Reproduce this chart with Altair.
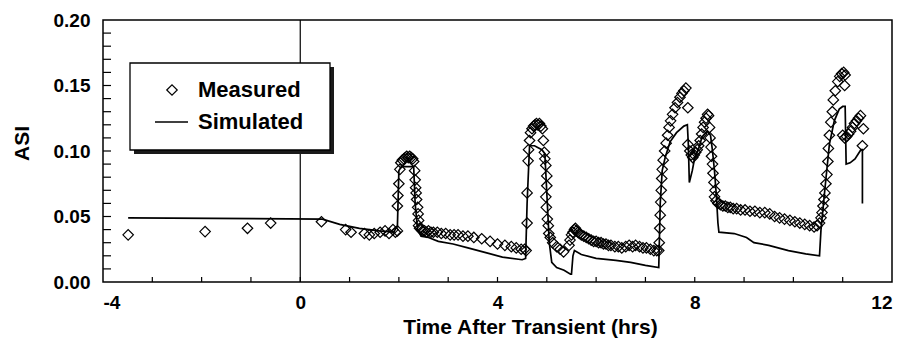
import altair as alt
import pandas as pd

FONT = "Liberation Sans"

# ---- data ----
meas_t = [-3.49, -1.93, -1.07, -0.6,
          0.43, 0.92, 1.03, 1.3, 1.4, 1.5, 1.62, 1.72, 1.8, 1.88, 1.93, 1.97,
          1.97, 1.98, 2.0, 2.02, 2.04, 2.07, 2.1, 2.13, 2.16, 2.19, 2.22, 2.25, 2.28, 2.3,
          2.32, 2.33, 2.34, 2.35, 2.36, 2.38, 2.39, 2.4, 2.4, 2.42, 2.45, 2.48, 2.52, 2.56,
          2.6, 2.65, 2.7, 2.78, 2.86, 2.95, 3.04, 3.12, 3.2, 3.3, 3.4, 3.52, 3.68, 3.85,
          4.0, 4.15, 4.28, 4.38, 4.48, 4.55, 4.58,
          4.6, 4.6, 4.62, 4.63, 4.65, 4.67, 4.7, 4.73, 4.76, 4.79, 4.82, 4.85, 4.88, 4.91,
          4.93, 4.95, 4.96, 4.98, 5.0, 5.0, 4.98, 4.99, 5.01, 5.03, 5.04, 5.07, 5.12, 5.2,
          5.27, 5.34,
          5.45, 5.47, 5.5, 5.53, 5.56, 5.58, 5.6, 5.63, 5.66, 5.7, 5.75, 5.8, 5.85, 5.9,
          5.95, 6.0, 6.05, 6.1, 6.15, 6.2, 6.25, 6.3, 6.38, 6.45, 6.52, 6.6, 6.67, 6.74,
          6.8, 6.88, 6.95, 7.02, 7.1, 7.17, 7.23, 7.27,
          7.28, 7.29, 7.3, 7.31, 7.32, 7.33, 7.34, 7.36, 7.39, 7.42, 7.45, 7.48, 7.51, 7.55,
          7.6, 7.65, 7.7, 7.74, 7.78, 7.82, 7.86,
          7.86, 7.9, 7.93, 7.96, 7.99, 8.02, 8.05, 8.08, 8.11, 8.14, 8.17, 8.2, 8.23, 8.26, 8.28,
          8.3, 8.31, 8.33, 8.34, 8.36, 8.37, 8.39, 8.41, 8.4, 8.43, 8.47, 8.52, 8.57, 8.62,
          8.67, 8.72, 8.78, 8.85, 8.93, 9.02, 9.12, 9.22, 9.32, 9.42, 9.52, 9.62, 9.72, 9.82,
          9.93, 10.03, 10.13, 10.23, 10.33, 10.42, 10.48, 10.53,
          10.56, 10.58, 10.6, 10.62, 10.64, 10.66, 10.68, 10.7, 10.71, 10.73, 10.76, 10.79,
          10.81, 10.85, 10.9, 10.94, 10.98, 11.02, 11.05, 11.04,
          11.0, 11.04, 11.08, 11.12, 11.16, 11.2, 11.24, 11.28, 11.32, 11.36, 11.42, 11.4]
meas_v = [0.036, 0.0385, 0.041, 0.045,
          0.046, 0.040, 0.038, 0.037, 0.036, 0.037, 0.038, 0.039, 0.037, 0.040, 0.038, 0.039,
          0.058, 0.066, 0.075, 0.086, 0.091, 0.093, 0.094, 0.095, 0.096, 0.095, 0.096, 0.095, 0.094, 0.092,
          0.085, 0.078, 0.072, 0.068, 0.063, 0.057, 0.052, 0.047, 0.043, 0.041, 0.040, 0.039, 0.039, 0.038,
          0.039, 0.038, 0.038, 0.038, 0.037, 0.037, 0.036, 0.036, 0.036, 0.035, 0.035, 0.034, 0.033, 0.031,
          0.029, 0.028, 0.027, 0.026, 0.025, 0.025, 0.024,
          0.045, 0.068, 0.0925, 0.101, 0.108, 0.114, 0.117, 0.119, 0.120, 0.121, 0.120, 0.121, 0.119, 0.117,
          0.108, 0.099, 0.094, 0.089, 0.081, 0.0735, 0.065, 0.057, 0.048, 0.043, 0.037, 0.034, 0.030, 0.027,
          0.025, 0.023,
          0.028, 0.032, 0.036, 0.038, 0.040, 0.041, 0.039, 0.038, 0.037, 0.036, 0.035, 0.034, 0.033, 0.032,
          0.031, 0.031, 0.030, 0.030, 0.029, 0.029, 0.028, 0.028, 0.027, 0.027, 0.026, 0.027, 0.028, 0.027,
          0.028, 0.027, 0.026, 0.026, 0.025, 0.024, 0.024, 0.024,
          0.030, 0.041, 0.051, 0.061, 0.070, 0.079, 0.086, 0.093, 0.100, 0.106, 0.112, 0.118, 0.123, 0.128,
          0.133, 0.137, 0.141, 0.144, 0.146, 0.148, 0.133,
          0.105, 0.100, 0.097, 0.095, 0.097, 0.099, 0.101, 0.104, 0.108, 0.113, 0.118, 0.122, 0.125, 0.128, 0.127,
          0.118, 0.110, 0.103, 0.096, 0.090, 0.083, 0.076, 0.070, 0.065, 0.062, 0.060, 0.059, 0.058, 0.058,
          0.057, 0.057, 0.056, 0.056, 0.055, 0.055, 0.054, 0.054, 0.053, 0.053, 0.052, 0.050, 0.049, 0.048,
          0.047, 0.046, 0.045, 0.044, 0.043, 0.042, 0.043, 0.045,
          0.049, 0.053, 0.058, 0.063, 0.068, 0.075, 0.082, 0.092, 0.102, 0.112, 0.122, 0.130,
          0.139, 0.146, 0.153, 0.157, 0.159, 0.160, 0.158, 0.150,
          0.112, 0.110, 0.111, 0.113, 0.115, 0.118, 0.121, 0.123, 0.125, 0.127, 0.117, 0.104]

sim_t = [-3.49, 0.45, 0.8, 1.2, 1.6, 1.9, 1.95, 1.97, 2.0, 2.05, 2.3, 2.33, 2.38, 2.45,
         2.6, 2.8, 3.1, 3.4, 3.8, 4.1, 4.5, 4.57, 4.6, 4.65, 4.75, 4.9, 4.96, 5.0, 5.05,
         5.1, 5.2, 5.35, 5.48, 5.5, 5.53, 5.56, 5.7, 6.0, 6.4, 6.7, 7.0, 7.27, 7.3, 7.34,
         7.4, 7.5, 7.63, 7.78, 7.85, 7.87, 7.89, 7.95, 8.0, 8.08, 8.15, 8.25, 8.32, 8.36,
         8.4, 8.44, 8.47, 8.49, 8.8, 9.05, 9.2, 9.5, 9.9, 10.25, 10.53, 10.56, 10.65,
         10.73, 10.83, 10.93, 11.0, 11.05, 11.07, 11.15, 11.25, 11.37, 11.4, 11.4]
sim_v = [0.049, 0.048, 0.044, 0.041, 0.039, 0.038, 0.042, 0.042, 0.085, 0.088, 0.088, 0.060, 0.040, 0.035,
         0.034, 0.031, 0.029, 0.026, 0.022, 0.019, 0.017, 0.018, 0.060, 0.104, 0.104, 0.101, 0.098, 0.068, 0.030,
         0.015, 0.011, 0.009, 0.006, 0.006, 0.020, 0.024, 0.021, 0.018, 0.0165, 0.015, 0.0127, 0.011, 0.060, 0.085,
         0.095, 0.107, 0.114, 0.119, 0.120, 0.105, 0.076, 0.085, 0.095, 0.102, 0.111, 0.115, 0.112, 0.100,
         0.085, 0.065, 0.045, 0.038, 0.037, 0.034, 0.030, 0.028, 0.024, 0.0215, 0.020, 0.040, 0.075,
         0.105, 0.123, 0.132, 0.134, 0.134, 0.090, 0.091, 0.094, 0.101, 0.101, 0.060]

x_labels = [-4, 0, 4, 8, 12]
y_labels = [0.0, 0.05, 0.10, 0.15, 0.20]
legend_labels = ["Measured", "Simulated"]
x_title = "Time After Transient (hrs)"
y_title = "ASI"

meas = pd.DataFrame({"t": meas_t, "v": meas_v})
sim = pd.DataFrame({"t": sim_t, "v": sim_v, "i": list(range(len(sim_t)))})
minor_x = pd.DataFrame({"t": list(range(-3, 12))})
minor_y = pd.DataFrame({"v": [round(0.01 * k, 2) for k in range(1, 20)]})
zero = pd.DataFrame({"t": [0]})
dummy = pd.DataFrame({"a": [0]})

xs = alt.Scale(domain=[-4, 12], nice=False, zero=False)
ys = alt.Scale(domain=[0, 0.2], nice=False, zero=False)

xaxis = alt.Axis(values=x_labels, title=x_title, ticks=False, tickSize=0, grid=False,
                 domain=False, labelPadding=11, labelFontSize=19, labelFont=FONT,
                 labelFontWeight="bold", labelColor="black",
                 labelExpr="'' + datum.value",
                 titleFont=FONT, titleFontSize=21, titleFontWeight="bold",
                 titleColor="black", titleX=427, titleY=45, titleBaseline="middle",
                 titleAlign="center")
yaxis = alt.Axis(values=y_labels, format=".2f", title=y_title, ticks=False, tickSize=0,
                 grid=False, domain=False, labelPadding=13, labelFontSize=19,
                 labelFont=FONT, labelFontWeight="bold", labelColor="black",
                 titleFont=FONT, titleFontSize=21, titleFontWeight="bold",
                 titleColor="black", titleX=-81, titleY=123, titleBaseline="middle",
                 titleAlign="center", titleAngle=270)

X = lambda: alt.X("t:Q", scale=xs, axis=xaxis)
Y = lambda: alt.Y("v:Q", scale=ys, axis=yaxis)

zero_rule = alt.Chart(zero).mark_rule(color="black", strokeWidth=1.2).encode(x=X())
xticks = alt.Chart(minor_x).mark_rule(color="black", strokeWidth=1.2).encode(
    x=X(), y=alt.value(262), y2=alt.value(257))
yticks = alt.Chart(minor_y).mark_rule(color="black", strokeWidth=1.2).encode(
    y=Y(), x=alt.value(0), x2=alt.value(8))

line = alt.Chart(sim).mark_line(color="black", strokeWidth=1.7).encode(
    x=X(), y=Y(), order="i:Q")
pts = alt.Chart(meas).mark_point(shape="diamond", filled=False, size=110,
                                 color="black", strokeWidth=1.2, opacity=1).encode(x=X(), y=Y())

shadow = alt.Chart(dummy).mark_rect(color="#1a1a1a").encode(
    x=alt.value(31), x2=alt.value(231), y=alt.value(47), y2=alt.value(134))
box = alt.Chart(dummy).mark_rect(fill="white", stroke="black", strokeWidth=1.3).encode(
    x=alt.value(27), x2=alt.value(227), y=alt.value(43), y2=alt.value(130))
leg_pt = alt.Chart(dummy).mark_point(shape="diamond", filled=False, size=110,
                                     color="black", strokeWidth=1.2, opacity=1).encode(
    x=alt.value(69), y=alt.value(70))
leg_line = alt.Chart(dummy).mark_rule(color="black", strokeWidth=1.7).encode(
    x=alt.value(52), x2=alt.value(85), y=alt.value(102))
txt_kw = dict(align="left", baseline="middle", font=FONT, fontSize=22,
              fontWeight="bold", color="black")
leg_t1 = alt.Chart(dummy).mark_text(**txt_kw).encode(
    x=alt.value(95), y=alt.value(70), text=alt.value(legend_labels[0]))
leg_t2 = alt.Chart(dummy).mark_text(**txt_kw).encode(
    x=alt.value(95), y=alt.value(102), text=alt.value(legend_labels[1]))

chart = alt.layer(
    zero_rule, xticks, yticks, line, pts,
    shadow, box, leg_pt, leg_line, leg_t1, leg_t2
).properties(
    width=789, height=262,
    autosize=alt.AutoSizeParams(type="none"),
    padding={"left": 95, "top": 12, "right": 7, "bottom": 56},
    background="white",
).configure_view(stroke="black", strokeWidth=1.5)

chart.save("out.html", embed_options={"renderer": "svg", "actions": False})
